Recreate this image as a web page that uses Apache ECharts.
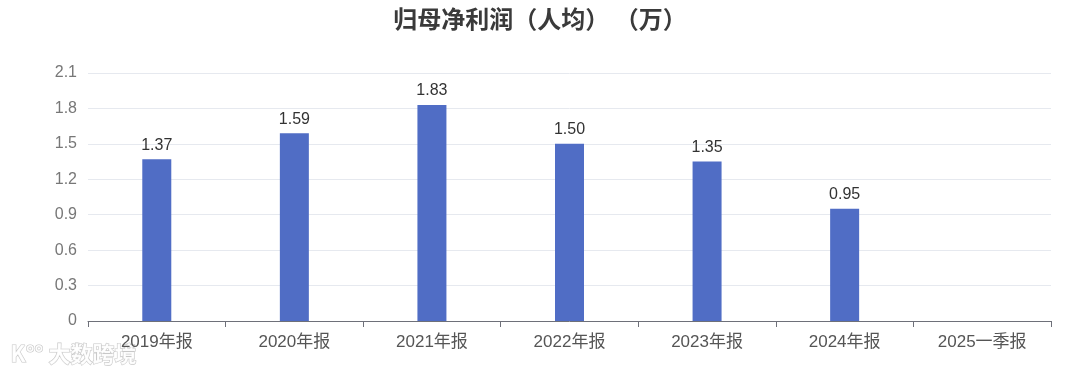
<!DOCTYPE html>
<html><head><meta charset="utf-8">
<script src="https://cdn.jsdelivr.net/npm/echarts@6/dist/echarts.min.js"></script>
<style>html,body{margin:0;padding:0;background:#fff}#c{width:1080px;height:379px}</style>
</head><body><div id="c"></div>
<script>
const titleText = '归母净利润（人均） （万）';
const categories = ['2019年报','2020年报','2021年报','2022年报','2023年报','2024年报','2025一季报'];
const values = [1.37, 1.59, 1.83, 1.50, 1.35, 0.95, null];
const yMin = 0, yMax = 2.1, yInterval = 0.3;

const chart = echarts.init(document.getElementById('c'));
const font = '"Liberation Sans", "Noto Sans CJK SC", sans-serif';
const cjk = '"Noto Sans CJK SC", sans-serif';
chart.setOption({
  animation: false,
  title: {text: titleText, left: 'center', top: 2,
    textStyle: {fontFamily: cjk, fontSize: 24, fontWeight: 'bold', color: '#3a3a3a'}},
  grid: {left: 88, right: 29, top: 73, bottom: 58},
  xAxis: {type: 'category', data: categories,
    axisLine: {lineStyle: {color: '#6e7079'}},
    axisTick: {show: true, length: 6, lineStyle: {color: '#6e7079'}},
    axisLabel: {fontFamily: font, fontSize: 17, color: '#555', margin: 13}},
  yAxis: {type: 'value', min: yMin, max: yMax, interval: yInterval,
    axisLabel: {fontFamily: font, fontSize: 16, color: '#777', margin: 11,
      formatter: v => (Math.round(v*10)/10).toString()},
    splitLine: {lineStyle: {color: '#e6e9ef'}}},
  series: [{type: 'bar', data: values, barWidth: 29,
    itemStyle: {color: '#506dc5'},
    label: {show: true, position: 'top', distance: 6, fontFamily: font, fontSize: 16, color: '#333',
      formatter: p => p.value == null ? '' : p.value.toFixed(2)}}],
  graphic: [{type: 'text', left: 10, top: 342,
    style: {text: 'K°° 大数跨境', fontFamily: cjk, fontSize: 22, fontWeight: 'bold',
      fill: 'rgba(255,255,255,0.9)', stroke: '#c8c8c8', lineWidth: 1.2}}]
});
</script></body></html>
